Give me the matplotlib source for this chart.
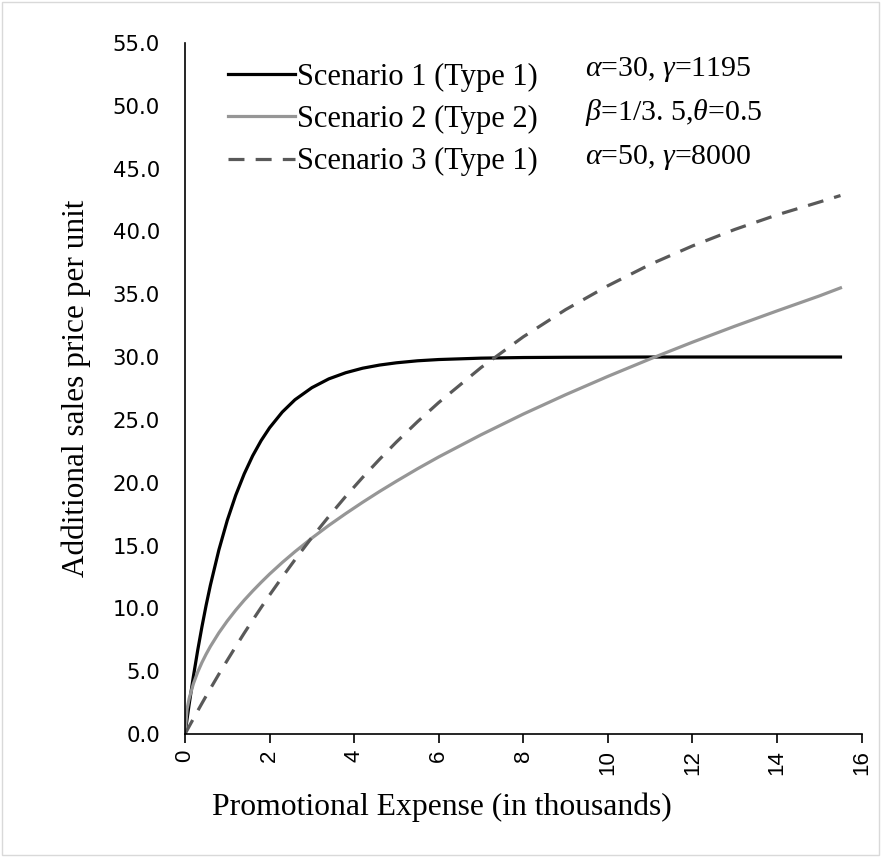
import matplotlib
matplotlib.use("Agg")
import matplotlib.pyplot as plt
from matplotlib.patches import Rectangle

x = [0, 0.05, 0.1, 0.2, 0.3, 0.4, 0.5, 0.6, 0.8, 1.0, 1.2, 1.4, 1.6, 1.8, 2.0, 2.3, 2.6, 3.0,
     3.4, 3.8, 4.2, 4.6, 5.0, 5.5, 6.0, 7, 8, 9, 10, 11, 12, 13, 14, 15, 15.5]
s1 = [0, 1.23, 2.41, 4.62, 6.66, 8.53, 10.26, 11.84, 14.64, 17.01, 19.01, 20.70, 22.14, 23.35,
      24.37, 25.62, 26.60, 27.56, 28.26, 28.75, 29.11, 29.36, 29.54, 29.70, 29.80, 29.91,
      29.96, 29.98, 29.99, 30.0, 30.0, 30.0, 30.0, 30.0, 30.0]
s2 = [0, 2.01, 2.85, 4.02, 4.93, 5.69, 6.36, 6.97, 8.05, 9.0, 9.86, 10.65, 11.38, 12.07, 12.73,
      13.65, 14.51, 15.59, 16.60, 17.54, 18.44, 19.30, 20.12, 21.11, 22.05, 23.81, 25.46,
      27.0, 28.46, 29.85, 31.18, 32.45, 33.67, 34.86, 35.5]
s3 = [0, 0.31, 0.62, 1.23, 1.84, 2.44, 3.03, 3.61, 4.76, 5.87, 6.96, 8.03, 9.06, 10.07, 11.06,
      12.49, 13.87, 15.64, 17.31, 18.91, 20.42, 21.86, 23.24, 24.86, 26.38, 29.16, 31.61,
      33.77, 35.67, 37.37, 38.84, 40.15, 41.31, 42.33, 42.85]
labels = ["Scenario 1 (Type 1)", "Scenario 2 (Type 2)", "Scenario 3 (Type 1)"]
params = [r"$\alpha$=30, $\gamma$=1195", r"$\beta$=1/3. 5,$\theta$=0.5", r"$\alpha$=50, $\gamma$=8000"]
xticks = list(range(0, 17, 2))
yticks = [0, 5, 10, 15, 20, 25, 30, 35, 40, 45, 50, 55]

plt.rcParams['mathtext.fontset'] = 'custom'
plt.rcParams['mathtext.it'] = 'Liberation Serif:italic'
plt.rcParams['mathtext.rm'] = 'Liberation Serif'

fig = plt.figure(figsize=(8.81, 8.57), dpi=100)
ax = fig.add_axes([0.21, 0.1435, 0.768, 0.8065])

ax.plot(x, s1, color='black', lw=2.3, label=labels[0], solid_joinstyle='round')
ax.plot(x, s2, color='#969696', lw=2.3, label=labels[1], solid_joinstyle='round')
ax.plot(x, s3, color='#595959', lw=2.3, ls=(0, (5, 3.5)), label=labels[2])

ax.set_xlim(0, 16)
ax.set_ylim(0, 55)
ax.set_xticks(xticks)
ax.set_xticklabels([str(v) for v in xticks], fontfamily='Liberation Sans')
ax.set_yticks(yticks)
ax.set_yticklabels([f"{v:.1f}" for v in yticks])
for sp in ['top', 'right']:
    ax.spines[sp].set_visible(False)
for sp in ['left', 'bottom']:
    ax.spines[sp].set_linewidth(1.2)
ax.tick_params(axis='x', direction='out', length=6.5, width=1.2, labelsize=16, labelrotation=90, pad=5)
ax.tick_params(axis='y', length=0, labelsize=15.3, pad=18)

ax.set_xlabel("Promotional Expense (in thousands)", fontfamily='Liberation Serif', fontsize=22.8)
ax.xaxis.set_label_coords((442 - 185) / 677, (734 - 807) / 691)
ax.xaxis.label.set_va('center')
ax.set_ylabel("Additional sales price per unit", fontfamily='Liberation Serif', fontsize=22.5)
ax.yaxis.set_label_coords((76 - 185) / 677, (734 - 388) / 691)
ax.yaxis.label.set_va('center')

leg = ax.legend(loc='upper left', bbox_to_anchor=((228 - 185) / 677, (734 - 63) / 691), frameon=False,
                prop={'family': 'Liberation Serif', 'size': 22}, handlelength=2.2,
                handletextpad=0.07, labelspacing=0.43, borderpad=0, borderaxespad=0)

ys = [70, 113, 158]
for p, yy in zip(params, ys):
    ax.text((585 - 185) / 677, (734 - yy) / 691, p, transform=ax.transAxes, fontsize=21.5,
            fontfamily='Liberation Serif', ha='left', va='center')

fig.patches.append(Rectangle((0.002, 0.002), 0.996, 0.996, transform=fig.transFigure,
                             fill=False, edgecolor='#d9d9d9', lw=1))

fig.savefig("out.png", dpi=100)
